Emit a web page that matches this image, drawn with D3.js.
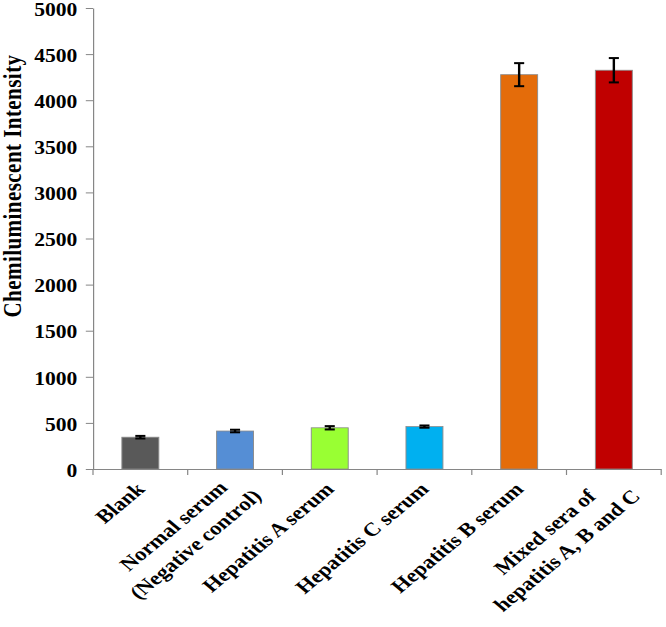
<!DOCTYPE html>
<html>
<head>
<meta charset="utf-8">
<script src="https://cdn.jsdelivr.net/npm/d3@7"></script>
<style>
  body { margin: 0; background: #fff; }
  text { font-family: "Liberation Serif", "Times New Roman", serif; font-weight: bold; fill: #000; }
</style>
</head>
<body>
<div id="chart"></div>
<script>
// labels are split into the lines they wrap to in the original
var categories = [
  ["Blank"],
  ["Normal serum", "(Negative control)"],
  ["Hepatitis A serum"],
  ["Hepatitis C serum"],
  ["Hepatitis B serum"],
  ["Mixed sera of", "hepatitis A, B and C"]
];
var values = [345, 412, 447, 460, 4277, 4325];
var errors = [14, 14, 18, 12, 125, 132];
var colors = ["#595959", "#558ed5", "#99ff33", "#00b0f0", "#e46c0a", "#c00000"];
var yTicks = [0, 500, 1000, 1500, 2000, 2500, 3000, 3500, 4000, 4500, 5000];

var width = 666, height = 627;
// original picture is stretched sideways, so draw narrow and scale x
var stretch = 1.2;
var plotLeft = 77.5, plotRight = 551, plotTop = 8, plotBottom = 469;

var svg = d3.select('#chart')
  .append('svg')
  .attr('width', width)
  .attr('height', height)
  .append('g')
  .attr('transform', 'scale(' + stretch + ',1)');

var x = d3.scaleBand()
  .domain(d3.range(categories.length))
  .range([plotLeft, plotRight])
  .paddingInner(0.61)
  .paddingOuter(0.305);

var y = d3.scaleLinear()
  .domain([0, 5000])
  .range([plotBottom, plotTop]);

var axisColor = '#868686';

// y axis
var yAxis = svg.append('g')
  .attr('transform', 'translate(' + plotLeft + ',0)')
  .call(d3.axisLeft(y).tickValues(yTicks).tickFormat(d3.format('d'))
    .tickSize(6).tickPadding(7).tickSizeOuter(0));
yAxis.select('.domain').attr('stroke', axisColor);
yAxis.selectAll('.tick line').attr('stroke', axisColor);
yAxis.selectAll('.tick text')
  .style('font-size', '18px')
  .attr('dy', '0.4em')
  .attr('fill', '#000');

// bars
svg.selectAll('rect.bar')
  .data(values)
  .enter()
  .append('rect')
  .attr('class', 'bar')
  .attr('x', function(d, i) { return x(i); })
  .attr('y', function(d) { return y(d); })
  .attr('width', x.bandwidth())
  .attr('height', function(d) { return y(0) - y(d); })
  .attr('fill', function(d, i) { return colors[i]; })
  .attr('stroke', '#8c8c8c')
  .attr('stroke-width', 0.8);

// error bars
var cap = 4.2;
var err = svg.selectAll('g.err')
  .data(values)
  .enter()
  .append('g')
  .attr('class', 'err')
  .attr('stroke', '#000')
  .attr('stroke-width', 2);
err.append('line')
  .attr('x1', function(d, i) { return x(i) + x.bandwidth() / 2; })
  .attr('x2', function(d, i) { return x(i) + x.bandwidth() / 2; })
  .attr('y1', function(d, i) { return y(d + errors[i]); })
  .attr('y2', function(d, i) { return y(d - errors[i]); });
err.append('line')
  .attr('x1', function(d, i) { return x(i) + x.bandwidth() / 2 - cap; })
  .attr('x2', function(d, i) { return x(i) + x.bandwidth() / 2 + cap; })
  .attr('y1', function(d, i) { return y(d + errors[i]); })
  .attr('y2', function(d, i) { return y(d + errors[i]); });
err.append('line')
  .attr('x1', function(d, i) { return x(i) + x.bandwidth() / 2 - cap; })
  .attr('x2', function(d, i) { return x(i) + x.bandwidth() / 2 + cap; })
  .attr('y1', function(d, i) { return y(d - errors[i]); })
  .attr('y2', function(d, i) { return y(d - errors[i]); });

// x axis: line with ticks on category boundaries
svg.append('line')
  .attr('x1', plotLeft).attr('x2', plotRight)
  .attr('y1', plotBottom + 0.5).attr('y2', plotBottom + 0.5)
  .attr('stroke', axisColor);
svg.selectAll('line.xtick')
  .data(d3.range(categories.length + 1))
  .enter()
  .append('line')
  .attr('class', 'xtick')
  .attr('x1', function(i) { return plotLeft + i * x.step(); })
  .attr('x2', function(i) { return plotLeft + i * x.step(); })
  .attr('y1', plotBottom)
  .attr('y2', plotBottom + 6)
  .attr('stroke', axisColor);

// category labels, rotated, lines centered on each other
var lh = 26;
var labels = svg.selectAll('g.xlabel')
  .data(categories)
  .enter()
  .append('g')
  .attr('class', 'xlabel')
  .attr('transform', function(d, i) {
    return 'translate(' + (x(i) + x.bandwidth() / 2) + ',480) rotate(-45)';
  });
labels.each(function(lines) {
  var g = d3.select(this);
  var n = lines.length;
  var texts = lines.map(function(t, k) {
    return g.append('text')
      .style('font-size', '19px')
      .attr('text-anchor', 'middle')
      .attr('y', 10.5 + (k - (n - 1) / 2) * lh + (n - 1) * 5)
      .text(t);
  });
  var w = d3.max(texts, function(t) { return t.node().getComputedTextLength(); });
  var endU = -4 + (n - 1) * 8;
  texts.forEach(function(t) { t.attr('x', endU - w / 2); });
});

// y title
svg.append('text')
  .attr('transform', 'translate(17.5,186) rotate(-90)')
  .attr('text-anchor', 'middle')
  .style('font-size', '21px')
  .style('letter-spacing', '0.45px')
  .text('Chemiluminescent Intensity');
</script>
</body>
</html>
